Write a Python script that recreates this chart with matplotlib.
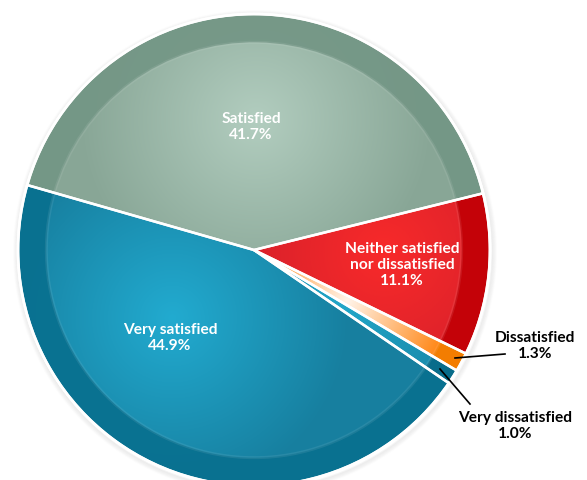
import matplotlib
matplotlib.use("Agg")
import matplotlib.pyplot as plt
import numpy as np
from matplotlib.patches import Wedge, Circle
from matplotlib.colors import to_rgb

# survey answers, in drawing order (counter-clockwise from the start angle)
labels = ["Satisfied", "Very satisfied", "Very dissatisfied", "Dissatisfied",
          "Neither satisfied\nnor dissatisfied"]
shares = [41.7, 44.9, 1.0, 1.3, 11.1]

# light centre / darker body / outer rim colour for each slice
light = ["#b2cdbf", "#22abd0", "#22a6c8", "#fff4ea", "#f82a2a"]
dark = ["#88a696", "#177f9f", "#147c9c", "#ff8410", "#cf1e2a"]
rim = ["#739685", "#08708f", "#076a88", "#f27d00", "#c20006"]
# highlight of each slice: (fraction of radius, angle offset from mid, spread)
glow = [(0.55, 0, 0.75), (0.45, -25, 0.75), (0.45, 0, 0.75),
        (0.45, 0, 0.45), (0.55, 5, 0.75)]

W, H = 587, 480
CX, CY, R = 254, 230, 236
START = 13.9
RIM = 0.88

plt.rcParams["font.family"] = ["Lato", "DejaVu Sans"]

fig = plt.figure(figsize=(W / 100, H / 100), dpi=100)
ax = fig.add_axes([0, 0, 1, 1])
ax.set_xlim(0, W)
ax.set_ylim(0, H)
ax.axis("off")

# soft drop shadow around the disc
for k in range(5):
    ax.add_patch(Circle((CX + 1, CY - 2), R + 1 + k, facecolor="none",
                        edgecolor="black", alpha=0.04 - 0.007 * k, lw=1.5, zorder=1))

xx, yy = np.meshgrid(np.arange(W) + 0.5, np.arange(H) + 0.5)
total = sum(shares)
angle = START
for i, share in enumerate(shares):
    span = 360 * share / total
    a0, a1 = angle, angle + span
    rr, off, spread = glow[i]
    mid = np.radians((a0 + a1) / 2 + off)
    hx, hy = CX + rr * R * np.cos(mid), CY + rr * R * np.sin(mid)
    d = np.clip(np.hypot(xx - hx, yy - hy) / (spread * R), 0, 1)
    c0, c1 = np.array(to_rgb(light[i])), np.array(to_rgb(dark[i]))
    img = c0 * (1 - d[..., None]) + c1 * d[..., None]

    body = Wedge((CX, CY), R, a0, a1, facecolor="none", edgecolor="none")
    ax.add_patch(body)
    im = ax.imshow(img, extent=(0, W, 0, H), origin="lower", zorder=2,
                   interpolation="bilinear")
    im.set_clip_path(body)

    ax.add_patch(Wedge((CX, CY), R, a0, a1, width=R * (1 - RIM),
                       facecolor=rim[i], edgecolor="none", alpha=0.92, zorder=3))
    ax.add_patch(Wedge((CX, CY), R * RIM + 1.5, a0, a1, width=3,
                       facecolor="white", edgecolor="none", alpha=0.08, zorder=3))
    ax.add_patch(Wedge((CX, CY), R, a0, a1, facecolor="none",
                       edgecolor="white", lw=1.8, zorder=4))
    angle = a1

ax.add_patch(Circle((CX, CY), R, facecolor="none", edgecolor="white", lw=2, zorder=5))

txt = dict(color="white", fontsize=11.2, fontweight="bold", ha="center",
           va="center", linespacing=1.2, zorder=6)
ax.text(251, H - 127, f"{labels[0]}\n{shares[0]:.1f}%", **txt)
ax.text(170, H - 338, f"{labels[1]}\n{shares[1]:.1f}%", **txt)
ax.text(402, H - 265, f"{labels[4]}\n{shares[4]:.1f}%", **txt)

out = dict(color="black", fontsize=11.2, fontweight="bold", ha="center",
           va="center", linespacing=1.2, zorder=6)
ax.text(535, H - 346, f"{labels[3]}\n{shares[3]:.1f}%", **out)
ax.text(515, H - 426, f"{labels[2]}\n{shares[2]:.1f}%", **out)
ax.plot([455, 505], [H - 358, H - 354], color="black", lw=1.2, zorder=6)
ax.plot([440, 470], [H - 369, H - 404], color="black", lw=1.2, zorder=6)

fig.savefig("out.png", dpi=100)
